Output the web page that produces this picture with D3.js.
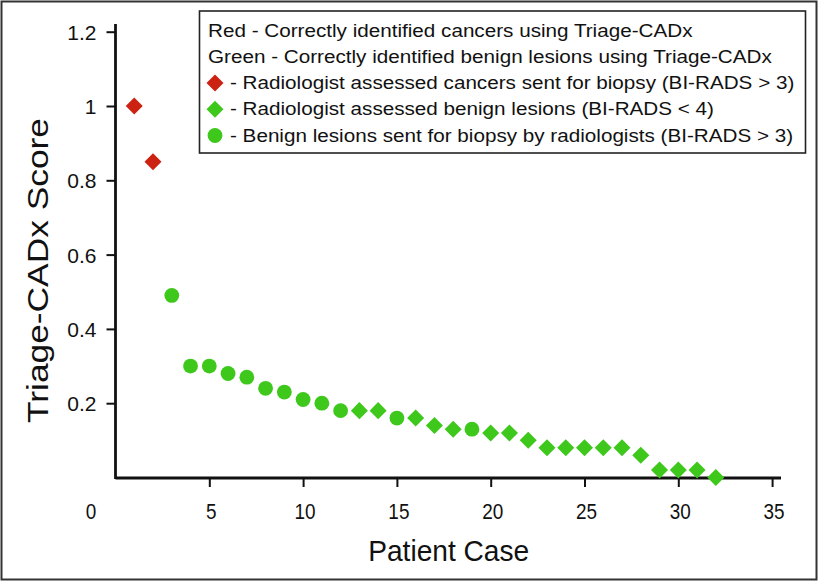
<!DOCTYPE html>
<html>
<head>
<meta charset="utf-8">
<script src="https://cdn.jsdelivr.net/npm/d3@7"></script>
<style>
  html, body { margin: 0; padding: 0; background: #fff; }
  svg { display: block; }
  text { font-family: Arial, "Liberation Sans", Helvetica, sans-serif; fill: #111; }
</style>
</head>
<body>
<svg id="chart" width="819" height="582"></svg>
<script>
// ---- data ----
const cases = [1,2,3,4,5,6,7,8,9,10,11,12,13,14,15,16,17,18,19,20,21,22,23,24,25,26,27,28,29,30,31,32];
const scores = [1.00,0.85,0.49,0.30,0.30,0.28,0.27,0.24,0.23,0.21,0.20,0.18,0.18,0.18,0.16,0.16,0.14,0.13,0.13,0.12,0.12,0.10,0.08,0.08,0.08,0.08,0.08,0.06,0.02,0.02,0.02,0.00];
// c = cancer sent for biopsy, b = benign (BI-RADS < 4), s = benign sent for biopsy
const groups = ["c","c","s","s","s","s","s","s","s","s","s","s","b","b","s","b","b","b","s","b","b","b","b","b","b","b","b","b","b","b","b","b"];
const xTicks = [5,10,15,20,25,30,35];
const yTicks = [0.2,0.4,0.6,0.8,1,1.2];
const legendLines = [
  "Red - Correctly identified cancers using Triage-CADx",
  "Green - Correctly identified benign lesions using Triage-CADx",
  "- Radiologist assessed cancers sent for biopsy (BI-RADS > 3)",
  "- Radiologist assessed benign lesions (BI-RADS < 4)",
  "- Benign lesions sent for biopsy by radiologists (BI-RADS > 3)"
];
const legendMarkers = [null, null, "c", "b", "s"];

const RED = "#cc2212", GREEN = "#3ec81c";
const colorOf = g => g === "c" ? RED : GREEN;

const svg = d3.select("#chart");

// outer frame
svg.append("rect").attr("x",1.5).attr("y",1.5).attr("width",815).attr("height",578)
  .attr("fill","none").attr("stroke","#333").attr("stroke-width",2);

const x = d3.scaleLinear().domain([0,35]).range([115.5,772.1]);
const y = d3.scaleLinear().domain([0,1.2]).range([477.5,31.7]);

// axes
const xAxis = svg.append("g").attr("transform","translate(0,478)")
  .call(d3.axisBottom(x).tickValues(xTicks).tickSize(9).tickPadding(8).tickSizeOuter(0));
const yAxis = svg.append("g").attr("transform","translate(115.5,0)")
  .call(d3.axisLeft(y).tickValues(yTicks).tickFormat(d3.format("")).tickSize(9).tickPadding(10).tickSizeOuter(0));

[xAxis, yAxis].forEach(g => {
  g.select(".domain").remove();
  g.selectAll(".tick line").attr("stroke","#111").attr("stroke-width",2);
});
xAxis.selectAll(".tick text").attr("font-size",21.5).attr("fill","#111")
  .attr("font-family","Arial, 'Liberation Sans', sans-serif").attr("dy",null)
  .attr("y",41).attr("transform","translate(1.5,0) scale(0.88,1)");
yAxis.selectAll(".tick text").attr("font-size",21).attr("fill","#111")
  .attr("font-family","Arial, 'Liberation Sans', sans-serif").attr("dy","0.36em").attr("x",-19);

// axis lines
svg.append("line").attr("x1",x(0)).attr("x2",781).attr("y1",478).attr("y2",478)
  .attr("stroke","#111").attr("stroke-width",2.8);
svg.append("line").attr("x1",115.5).attr("x2",115.5).attr("y1",24).attr("y2",479)
  .attr("stroke","#111").attr("stroke-width",2.8);

// the lone "0" label at origin
svg.append("text").attr("transform",`translate(${x(0)-24.5},519) scale(0.88,1)`)
  .attr("text-anchor","middle").attr("font-size",21.5).text("0");

// axis titles
svg.append("text").attr("x",448.7).attr("y",561).attr("text-anchor","middle")
  .attr("font-size",29).attr("textLength",161).attr("lengthAdjust","spacingAndGlyphs")
  .text("Patient Case");
svg.append("text").attr("transform","translate(48,270.5) rotate(-90)").attr("text-anchor","middle")
  .attr("font-size",30).attr("textLength",305).attr("lengthAdjust","spacingAndGlyphs")
  .text("Triage-CADx Score");

// markers
const diamond = d3.symbol().type(d3.symbolSquare).size(145);
const circle = d3.symbol().type(d3.symbolCircle).size(172);
function drawMarker(sel, g){
  if (g === "s") {
    sel.append("path").attr("d", circle()).attr("fill", colorOf(g));
  } else {
    sel.append("path").attr("d", diamond()).attr("transform","rotate(45)").attr("fill", colorOf(g));
  }
}
const pts = svg.append("g").selectAll("g").data(cases).join("g")
  .attr("transform",(d,i)=>`translate(${x(d)},${y(scores[i])})`);
pts.each(function(d,i){ drawMarker(d3.select(this), groups[i]); });

// legend
const lg = svg.append("g");
lg.append("rect").attr("x",199.5).attr("y",11).attr("width",606).attr("height",142)
  .attr("fill","#fff").attr("stroke","#222").attr("stroke-width",1.6);
legendLines.forEach((t,i)=>{
  const by = 36.7 + i*26.2;
  const m = legendMarkers[i];
  if (m) {
    const g = lg.append("g").attr("transform",`translate(215,${by-6})`);
    drawMarker(g, m);
  }
  const tx = lg.append("text").attr("x", m ? 230 : 208).attr("y", by).attr("font-size",18.3)
    .text(t);
  const w = tx.node().getComputedTextLength();
  tx.attr("textLength", w*1.13).attr("lengthAdjust","spacingAndGlyphs");
});
</script>
</body>
</html>
